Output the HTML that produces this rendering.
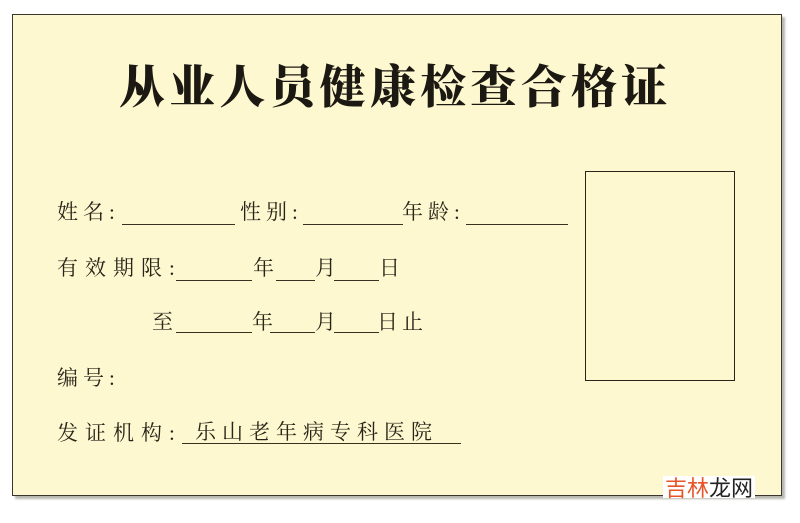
<!DOCTYPE html>
<html><head><meta charset="utf-8"><style>
body{margin:0;width:800px;height:523px;background:#fff;position:relative;overflow:hidden;font-family:"Liberation Serif","Noto Serif CJK SC",serif;color:#2a2418}
.card{position:absolute;left:12px;top:14px;width:768px;height:480px;background:#fef8d1;border:1.5px solid #3a3630;box-shadow:3px 3px 2px #b8b8b0}
.t{position:absolute;font-size:21px;line-height:1;white-space:nowrap}
.l{position:absolute;height:0;border-top:1.3px solid #3a3020}
h1{position:absolute;margin:0;left:119px;top:65px;font-size:46px;line-height:1;font-weight:900;letter-spacing:4.2px;color:#1c1812;white-space:nowrap}
.ph{position:absolute;left:585px;top:171px;width:148px;height:208px;border:1.5px solid #2a2418}
.wm{position:absolute;left:663px;top:476px;font-family:"Noto Sans CJK SC",sans-serif;font-size:22px;line-height:1;background:#fff;padding:0 2px}
</style></head><body>
<div class="card"></div>
<h1>从业人员健康检查合格证</h1>
<div class="ph"></div>

<div class="t" style="left:57px;top:202px;letter-spacing:5px">姓名:</div>
<div class="l" style="left:122px;width:113px;top:224px"></div>
<div class="t" style="left:240px;top:202px;letter-spacing:5px">性别:</div>
<div class="l" style="left:303px;width:100px;top:224px"></div>
<div class="t" style="left:402px;top:202px;letter-spacing:5px">年龄:</div>
<div class="l" style="left:466px;width:102px;top:224px"></div>

<div class="t" style="left:57px;top:258px;letter-spacing:7px">有效期限:</div>
<div class="l" style="left:176px;width:76px;top:280px"></div>
<div class="t" style="left:253px;top:258px">年</div>
<div class="l" style="left:276px;width:39px;top:280px"></div>
<div class="t" style="left:315px;top:258px">月</div>
<div class="l" style="left:334px;width:45px;top:280px"></div>
<div class="t" style="left:379px;top:258px">日</div>

<div class="t" style="left:152px;top:312px">至</div>
<div class="l" style="left:176px;width:76px;top:332px"></div>
<div class="t" style="left:252px;top:312px">年</div>
<div class="l" style="left:270px;width:45px;top:332px"></div>
<div class="t" style="left:315px;top:312px">月</div>
<div class="l" style="left:334px;width:45px;top:332px"></div>
<div class="t" style="left:377px;top:312px;letter-spacing:4px">日止</div>

<div class="t" style="left:57px;top:368px;letter-spacing:5px">编号:</div>

<div class="t" style="left:57px;top:423px;letter-spacing:7px">发证机构:</div>
<div class="t" style="left:195px;top:422px;letter-spacing:6px">乐山老年病专科医院</div>
<div class="l" style="left:182px;width:279px;top:443px"></div>

<div class="wm"><span style="color:#e8542a">吉林</span><span style="color:#222">龙网</span></div>
</body></html>
